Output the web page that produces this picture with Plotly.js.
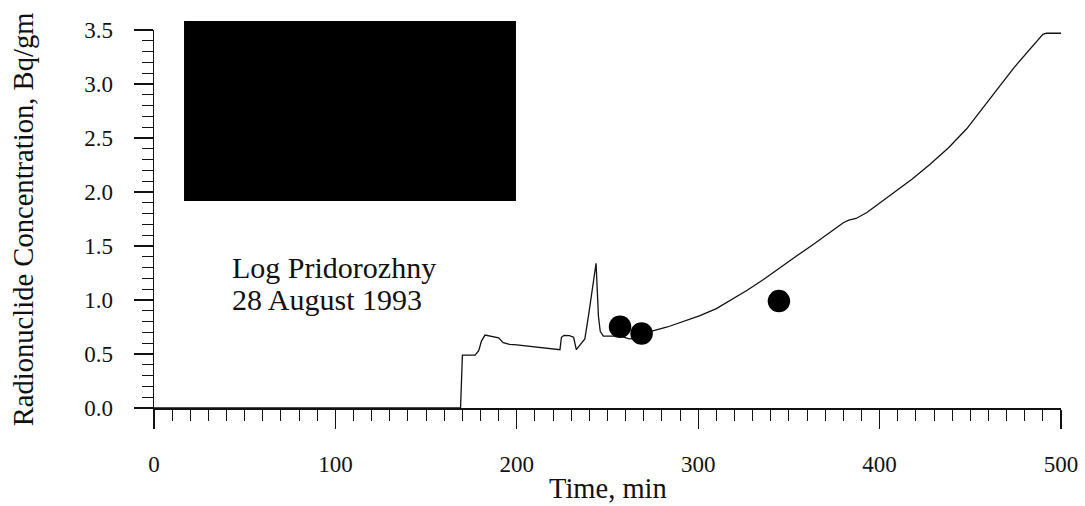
<!DOCTYPE html>
<html>
<head>
<meta charset="utf-8">
<script src="https://cdn.plot.ly/plotly-3.0.1.min.js"></script>
<style>
  html, body { margin: 0; padding: 0; background: #ffffff; }
  #chart { width: 1085px; height: 506px; }
</style>
</head>
<body>
<div id="chart"></div>
<script>
// Logged radionuclide concentration over time (continuous record)
const logTime = [0, 169, 170, 177, 179, 180.5, 182.5, 186, 190, 192.5, 196, 200, 205, 210, 215, 220, 223.8,
  224.6, 226, 229, 231.3, 232.8, 234.8, 237.5, 239.5, 241.5, 243.7, 245, 246, 247.7, 252, 257, 262, 266,
  270, 275, 283, 292, 301, 310, 318, 327, 336, 345, 354, 363, 372, 380, 383, 387, 393, 400, 409, 418,
  428, 438, 448, 457, 466, 474, 482, 487, 490, 492, 500];
const logConc = [0, 0, 0.49, 0.49, 0.53, 0.62, 0.675, 0.665, 0.65, 0.605, 0.59, 0.585, 0.575, 0.565, 0.555, 0.548, 0.54,
  0.655, 0.672, 0.67, 0.655, 0.54, 0.585, 0.64, 0.85, 1.10, 1.34, 0.85, 0.71, 0.665, 0.665, 0.665, 0.64, 0.645,
  0.665, 0.715, 0.75, 0.80, 0.855, 0.92, 1.00, 1.09, 1.19, 1.30, 1.405, 1.51, 1.615, 1.715, 1.74, 1.755, 1.81, 1.895, 2.005, 2.12,
  2.26, 2.41, 2.585, 2.775, 2.975, 3.15, 3.30, 3.40, 3.46, 3.47, 3.47];

// Grab-sample measurements
const sampleTime = [256.9, 268.8, 344.5];
const sampleConc = [0.753, 0.69, 0.99];

// Axis tick values and labels
const xTicks = [0, 100, 200, 300, 400, 500];
const xTickText = ['0', '100', '200', '300', '400', '500'];
const yTicks = [0, 0.5, 1.0, 1.5, 2.0, 2.5, 3.0, 3.5];
const yTickText = ['0.0', '0.5', '1.0', '1.5', '2.0', '2.5', '3.0', '3.5'];

// Axis titles and caption lines
const xTitle = 'Time, min';
const yTitle = 'Radionuclide Concentration, Bq/gm';
const captionLines = ['Log Pridorozhny', '28 August 1993'];

const FONT = 'Liberation Serif, Times New Roman, Times, serif';
const INK = '#111111';

const traces = [
  {
    x: logTime, y: logConc, type: 'scatter', mode: 'lines',
    line: { color: INK, width: 1.3 },
    hoverinfo: 'skip', showlegend: false
  },
  {
    x: sampleTime, y: sampleConc, type: 'scatter', mode: 'markers',
    marker: { color: '#000000', size: 22.5, line: { width: 0 } },
    hoverinfo: 'skip', showlegend: false
  }
];

const axisCommon = {
  showline: true, linecolor: INK, linewidth: 1.5,
  showgrid: false, zeroline: false, mirror: false,
  ticks: 'outside', ticklen: 19, tickwidth: 1.2, tickcolor: INK,
  tickmode: 'array',
  tickfont: { family: FONT, size: 23, color: INK }
};

const layout = {
  width: 1085, height: 506,
  margin: { l: 154, r: 24, t: 30, b: 98, pad: 0 },
  paper_bgcolor: '#ffffff', plot_bgcolor: '#ffffff',
  font: { family: FONT, color: INK },
  showlegend: false,
  xaxis: Object.assign({}, axisCommon, {
    range: [0, 500], tickvals: xTicks, ticktext: xTickText,
    ticklabelstandoff: 16,
    minor: { dtick: 10, tick0: 0, ticks: 'outside', ticklen: 11, tickwidth: 1, tickcolor: INK, showgrid: false }
  }),
  yaxis: Object.assign({}, axisCommon, {
    range: [0, 3.5], tickvals: yTicks, ticktext: yTickText,
    ticklabelstandoff: 16,
    minor: { dtick: 0.1, tick0: 0, ticks: 'outside', ticklen: 11, tickwidth: 1, tickcolor: INK, showgrid: false }
  }),
  shapes: [
    {
      type: 'rect', xref: 'paper', yref: 'paper',
      x0: 0.0331, x1: 0.3991, y0: 0.5476, y1: 1.0238,
      fillcolor: '#000000', line: { width: 0 }, layer: 'above'
    }
  ],
  annotations: [
    {
      // x-axis title
      xref: 'paper', yref: 'paper', x: 0.5, y: -0.2124, text: xTitle,
      showarrow: false, xanchor: 'center', yanchor: 'middle',
      font: { family: FONT, size: 28.5, color: INK }
    },
    {
      // y-axis title
      xref: 'paper', yref: 'paper', x: -0.1441, y: 0.5, text: yTitle,
      textangle: -90, showarrow: false, xanchor: 'center', yanchor: 'middle',
      font: { family: FONT, size: 28.6, color: INK }
    },
    {
      xref: 'x', yref: 'y', x: 41.9, y: 1.297, text: captionLines[0],
      showarrow: false, xanchor: 'left', yanchor: 'middle',
      font: { family: FONT, size: 30, color: INK }
    },
    {
      xref: 'x', yref: 'y', x: 41.9, y: 1.005, text: captionLines[1],
      showarrow: false, xanchor: 'left', yanchor: 'middle',
      font: { family: FONT, size: 30, color: INK }
    }
  ]
};

Plotly.newPlot('chart', traces, layout, { staticPlot: true, displayModeBar: false });
</script>
</body>
</html>
